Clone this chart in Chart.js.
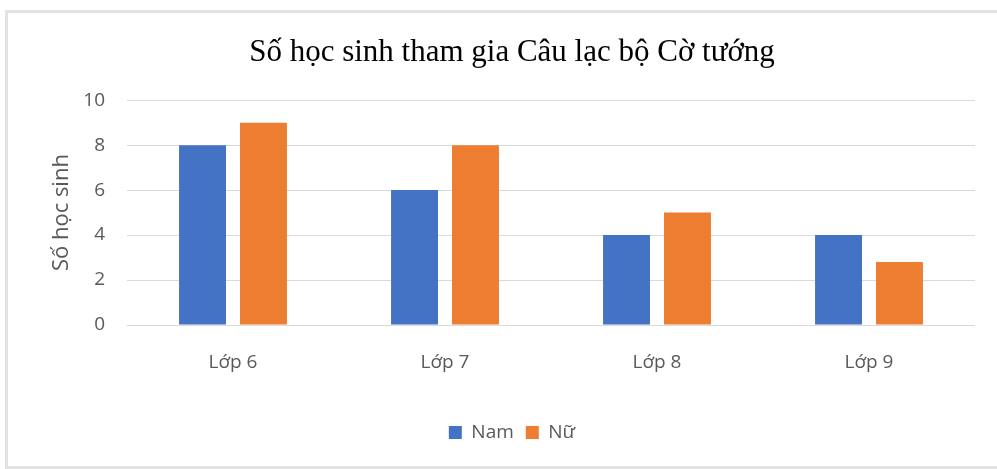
<!DOCTYPE html>
<html lang="vi">
<head>
<meta charset="utf-8">
<title>Số học sinh tham gia Câu lạc bộ Cờ tướng</title>
<script src="https://cdn.jsdelivr.net/npm/chart.js@4.4.1/dist/chart.umd.min.js"></script>
<style>
    html, body {
        margin: 0;
        padding: 0;
        background: #ffffff;
    }
    #chartBox {
        position: relative;
        width: 997px;
        height: 469px;
    }
</style>
</head>
<body>
<div id="chartBox">
    <canvas id="clubChart"></canvas>
</div>
<script>
const categories = ["Lớp 6", "Lớp 7", "Lớp 8", "Lớp 9"];
const namValues = [8, 6, 4, 4];
const nuValues = [9, 8, 5, 2.8];
const yTicks = [0, 2, 4, 6, 8, 10];

const textColor = "#595959";
const gridColor = "#d9d9d9";

// light frame around the whole chart, like the exported picture
const framePlugin = {
    id: "frame",
    beforeDraw(chart) {
        const ctx = chart.ctx;
        ctx.save();
        ctx.fillStyle = "#ffffff";
        ctx.fillRect(0, 0, chart.width, chart.height);
        ctx.strokeStyle = "#e2e2e2";
        ctx.lineWidth = 3;
        ctx.strokeRect(6.5, 11.5, chart.width - 5, chart.height - 13);
        ctx.restore();
    }
};

document.addEventListener("DOMContentLoaded", function () {
    const canvas = document.getElementById("clubChart");

    new Chart(canvas, {
        type: "bar",
        data: {
            labels: categories,
            datasets: [
                {
                    label: "Nam",
                    data: namValues,
                    backgroundColor: "#4472c4",
                    categoryPercentage: 0.575,
                    barPercentage: 0.77
                },
                {
                    label: "Nữ",
                    data: nuValues,
                    backgroundColor: "#ed7d31",
                    categoryPercentage: 0.575,
                    barPercentage: 0.77
                }
            ]
        },
        options: {
            responsive: true,
            maintainAspectRatio: false,
            animation: false,
            layout: {
                padding: { top: 12, left: 49, right: 22, bottom: 17 }
            },
            plugins: {
                title: {
                    display: true,
                    text: "Số học sinh tham gia Câu lạc bộ Cờ tướng",
                    color: "#000000",
                    font: { family: "'Liberation Serif', serif", size: 31, weight: "normal" },
                    padding: { top: 22, bottom: 29 }
                },
                legend: {
                    position: "bottom",
                    labels: {
                        color: textColor,
                        boxWidth: 13,
                        boxHeight: 13,
                        padding: 12,
                        font: { family: "'Open Sans', sans-serif", size: 19 }
                    }
                },
                tooltip: { enabled: false }
            },
            scales: {
                x: {
                    grid: { display: false },
                    border: { display: false },
                    ticks: {
                        color: textColor,
                        padding: 18,
                        font: { family: "'Open Sans', sans-serif", size: 19 }
                    },
                    afterFit(scale) {
                        scale.height = 86;
                    }
                },
                y: {
                    min: 0,
                    max: 10,
                    afterBuildTicks(scale) {
                        scale.ticks = yTicks.map(v => ({ value: v }));
                    },
                    grid: { color: gridColor, lineWidth: 1, drawTicks: false },
                    border: { display: false },
                    ticks: {
                        color: textColor,
                        padding: 22,
                        font: { family: "'Open Sans', sans-serif", size: 19 }
                    },
                    title: {
                        display: true,
                        text: "Số học sinh",
                        color: textColor,
                        padding: 0,
                        font: { family: "'Open Sans', sans-serif", size: 22 }
                    },
                    afterFit(scale) {
                        scale.width = 78;
                    }
                }
            }
        },
        plugins: [framePlugin]
    });
});
</script>
</body>
</html>
